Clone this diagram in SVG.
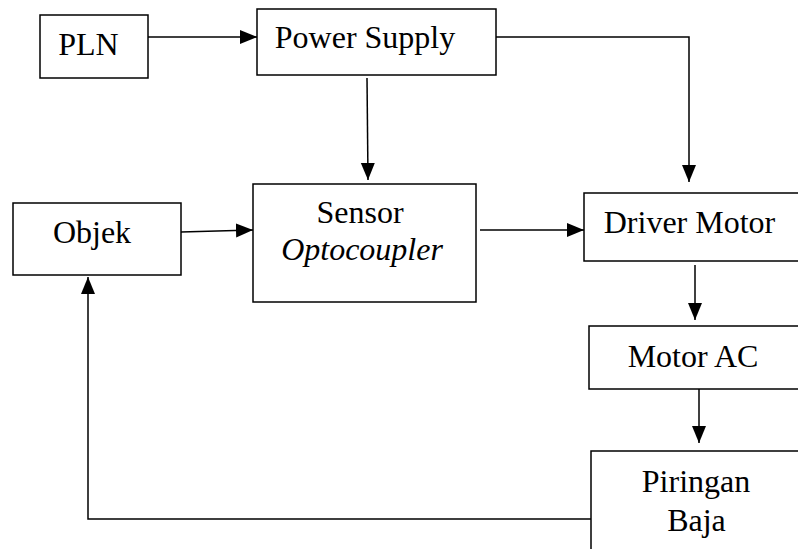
<svg xmlns="http://www.w3.org/2000/svg" width="798" height="549" viewBox="0 0 798 549">
<defs>
<style>
.box{fill:#fff;stroke:#000;stroke-width:1.5}
.t{font-family:"Liberation Serif","Times New Roman",serif;font-size:32px;fill:#000;text-anchor:middle}
.i{font-style:italic}
.c{fill:none;stroke:#000;stroke-width:1.5}
</style>
<marker id="ah" markerUnits="userSpaceOnUse" markerWidth="18" markerHeight="15" refX="17" refY="7" orient="auto">
<path d="M0,0 L17,7 L0,14 z" fill="#000"/>
</marker>
</defs>
<rect width="798" height="549" fill="#fff"/>
<g id="connectors">
<path class="c" d="M148,37 H257" marker-end="url(#ah)"/>
<path class="c" d="M367,78 L368,180" marker-end="url(#ah)"/>
<path class="c" d="M496,37 H689 V182" marker-end="url(#ah)"/>
<path class="c" d="M181,232 L253,230" marker-end="url(#ah)"/>
<path class="c" d="M480,230 H584" marker-end="url(#ah)"/>
<path class="c" d="M695,265 V320" marker-end="url(#ah)"/>
<path class="c" d="M699,389 V443" marker-end="url(#ah)"/>
<path class="c" d="M591,519 H88 V277" marker-end="url(#ah)"/>
</g>
<g id="pln">
<rect class="box" x="40" y="15" width="108" height="63"/>
<text class="t" x="88.5" y="55">PLN</text>
</g>
<g id="power-supply">
<rect class="box" x="257" y="9" width="239" height="66"/>
<text class="t" x="365" y="48">Power Supply</text>
</g>
<g id="objek">
<rect class="box" x="13" y="203" width="168" height="72"/>
<text class="t" x="92" y="243">Objek</text>
</g>
<g id="sensor">
<rect class="box" x="253" y="184" width="223" height="118"/>
<text class="t" x="360" y="223">Sensor</text>
<text class="t i" x="362" y="260">Optocoupler</text>
</g>
<g id="driver-motor">
<rect class="box" x="584" y="193" width="240" height="68"/>
<text class="t" x="689.5" y="233">Driver Motor</text>
</g>
<g id="motor-ac">
<rect class="box" x="589" y="326" width="240" height="63"/>
<text class="t" x="693" y="367">Motor AC</text>
</g>
<g id="piringan-baja">
<rect class="box" x="591" y="451" width="240" height="120"/>
<text class="t" x="696" y="492">Piringan</text>
<text class="t" x="696.5" y="531">Baja</text>
</g>
</svg>
